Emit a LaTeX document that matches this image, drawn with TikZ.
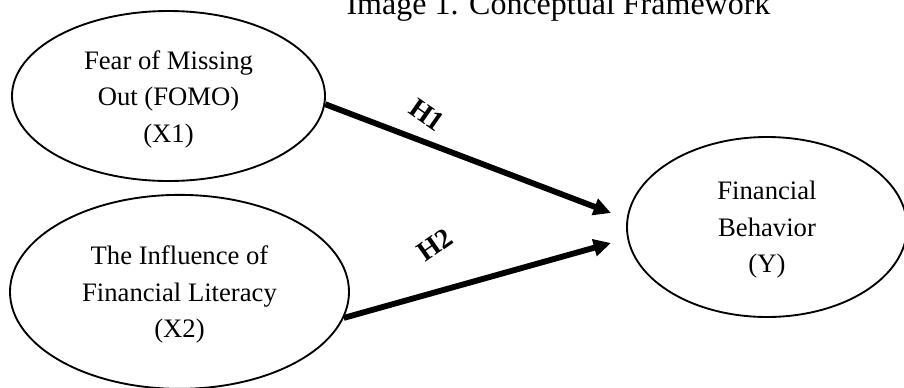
\documentclass[tikz,border=0pt]{standalone}
\usepackage{fontspec}
\setmainfont{Liberation Serif}
\usepackage{tikz}
\usetikzlibrary{positioning,shapes.geometric,arrows.meta}

\begin{document}
\begin{tikzpicture}[x=0.75pt,y=-0.75pt,auto]
	\tikzstyle{construct}=[ellipse,draw,line width=1.4pt,inner sep=0pt,align=center,font=\fontsize{20}{27.5}\selectfont]
	\tikzstyle{path}=[line width=4.4pt,-{Triangle[length=13pt,width=12.5pt]}]
	\tikzstyle{hyp}=[font=\fontsize{21}{24}\selectfont\bfseries,inner sep=0pt]
		\useasboundingbox (0,0) rectangle (904,387);
		\node[anchor=base,font=\fontsize{24}{28}\selectfont] (title) at (558.5,14) {Image 1. Conceptual Framework};
		\node[construct, minimum width=234.75pt, minimum height=127.5pt] (x1) at (168.5,96) {\rule{0pt}{19pt}Fear of Missing\\Out (FOMO)\\(X1)};
		\node[construct, below=9pt of x1, xshift=8.25pt, minimum width=254.25pt, minimum height=145.5pt] (x2) {\rule{0pt}{18pt}The Influence of\\Financial Literacy\\(X2)};
		\node[construct, minimum width=210pt, minimum height=135pt] (y) at (767,227) {\rule{0pt}{18pt}Financial\\Behavior\\(Y)};
		\coordinate (y1) at (611,213);
		\coordinate (y2) at (611,243);
			\draw[path] (x1.-3) -- (y1);
			\draw[path] (x2.-9) -- (y2);
		\node[hyp, rotate=-35] (h1) at (427,115) {H1};
		\node[hyp, rotate=35] (h2) at (435,245) {H2};
\end{tikzpicture}
\end{document}
